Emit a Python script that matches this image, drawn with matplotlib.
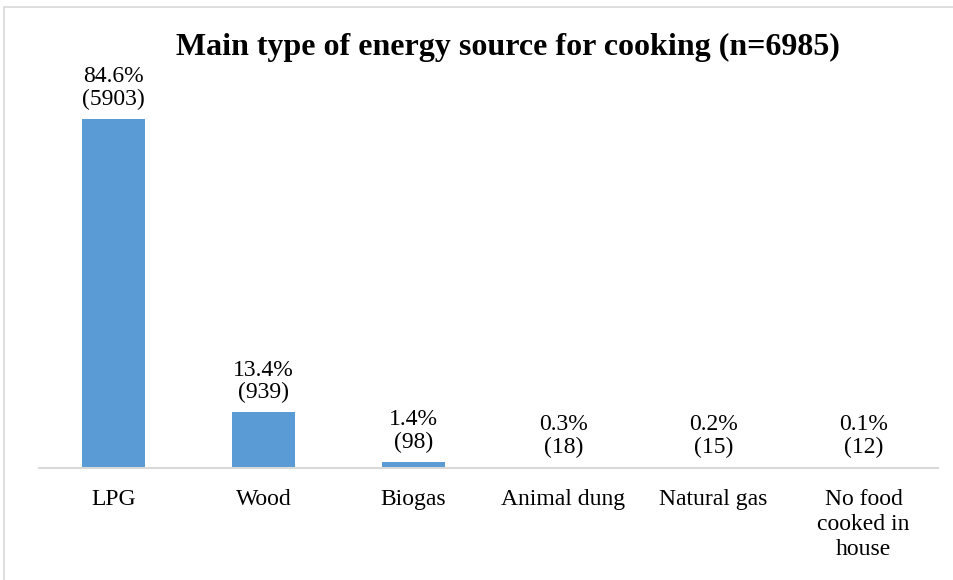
import matplotlib.pyplot as plt
from matplotlib.patches import Rectangle

categories = ['LPG', 'Wood', 'Biogas', 'Animal dung', 'Natural gas', 'No food\ncooked in\nhouse']
counts = [5903, 939, 98, 18, 15, 12]
percents = ['84.6%', '13.4%', '1.4%', '0.3%', '0.2%', '0.1%']

plt.rcParams['font.family'] = ['Liberation Serif', 'DejaVu Serif']

fig = plt.figure(figsize=(9.54, 5.80), dpi=100)
ax = fig.add_axes([38.5 / 954, 112 / 580, 900 / 954, 414 / 580])

x = range(len(categories))
bars = ax.bar(x, counts, width=0.42, color='#5B9BD5')
ax.set_xlim(-0.5, len(categories) - 0.5)
ax.set_ylim(0, 7000)

# 값 라벨 (퍼센트 + 건수)
for b, p, c in zip(bars, percents, counts):
    ax.annotate(f'{p}\n({c})', (b.get_x() + b.get_width() / 2, b.get_height()),
                xytext=(0, 6.5), textcoords='offset points', ha='center', va='bottom',
                fontsize=17, linespacing=1.1)

ax.set_xticks(list(x))
ax.set_xticklabels(categories, fontsize=17, linespacing=1.25, va='top')
ax.tick_params(axis='x', length=0, pad=15)
ax.set_yticks([])
for s in ['left', 'right', 'top']:
    ax.spines[s].set_visible(False)
ax.spines['bottom'].set_color('#D9D9D9')
ax.spines['bottom'].set_linewidth(1.5)

fig.text(508 / 954, 1 - 55 / 580, 'Main type of energy source for cooking (n=6985)',
         ha='center', va='baseline', fontsize=23, fontweight='bold')

# 바깥 테두리
fig.add_artist(Rectangle((4 / 954, -0.1), 1.2, 1 - 7 / 580 + 0.1, transform=fig.transFigure,
                         fill=False, edgecolor='#D9D9D9', linewidth=1.2))

fig.savefig('out.png', dpi=100)
